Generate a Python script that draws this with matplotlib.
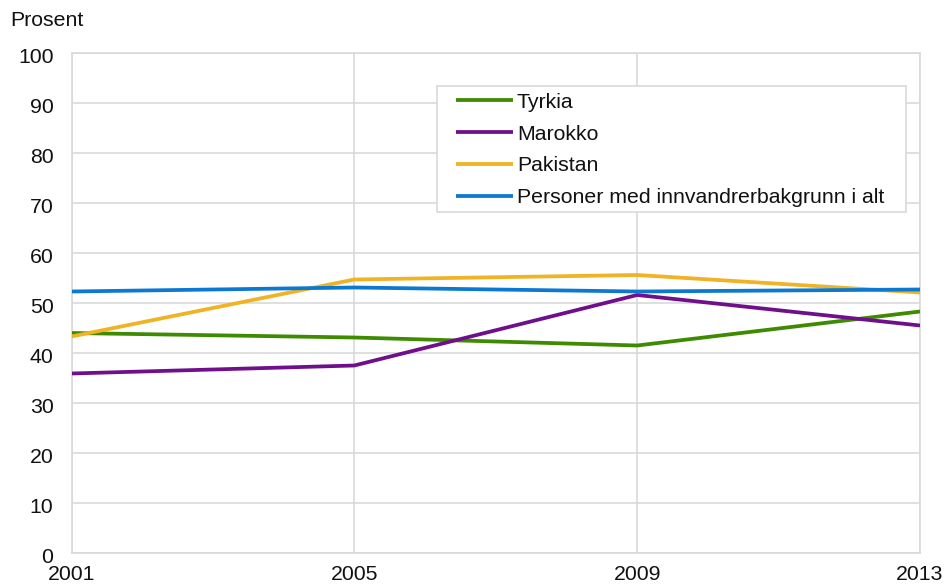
import matplotlib
matplotlib.use("Agg")
import matplotlib.pyplot as plt
import matplotlib.transforms as mtransforms
from matplotlib.patches import Rectangle

plt.rcParams['font.family'] = ['Liberation Sans', 'DejaVu Sans']

years = [2001, 2005, 2009, 2013]
tyrkia = [43.9, 43.0, 41.4, 48.2]
marokko = [35.8, 37.4, 51.5, 45.4]
pakistan = [43.2, 54.6, 55.5, 52.0]
personer = [52.2, 53.0, 52.2, 52.6]

series_labels = ["Tyrkia", "Marokko", "Pakistan", "Personer med innvandrerbakgrunn i alt"]
colors = ["#3e8a00", "#6f0f8c", "#efb324", "#0b78d2"]
y_ticks = list(range(0, 101, 10))

W, H = 947, 585
FS = 15.3
fig = plt.figure(figsize=(W/100, H/100), dpi=100)
ax = fig.add_axes([71.5/W, (H-552.5)/H, (920-71.5)/W, (552.5-52.5)/H])

for vals, lab, c in zip([tyrkia, marokko, pakistan, personer], series_labels, colors):
    ax.plot(years, vals, color=c, lw=2.7, label=lab, solid_capstyle='butt', zorder=3)

ax.set_xlim(years[0], years[-1])
ax.set_ylim(0, 100)
ax.set_xticks(years)
ax.set_yticks(y_ticks)
ax.grid(True, color="#d9d9d9", lw=1.2)
ax.set_axisbelow(True)
for s in ax.spines.values():
    s.set_color("#d9d9d9")
    s.set_linewidth(1.2)
ax.tick_params(length=0, labelsize=FS, colors="#111111")
ax.tick_params(axis='x', pad=9)
ax.tick_params(axis='y', pad=13)
off = mtransforms.ScaledTranslation(0, -2/72, fig.dpi_scale_trans)
for lbl in ax.get_yticklabels():
    lbl.set_transform(lbl.get_transform() + off)

fig.text(10/W, 1-20/H, "Prosent", fontsize=FS, va='center', ha='left', color="#111111")

# legend frame
frame = Rectangle((437/W, 1-212/H), (906-437)/W, (212-86)/H, transform=fig.transFigure,
                  facecolor='white', edgecolor='#d9d9d9', lw=1.2, zorder=4, clip_on=False)
ax.add_patch(frame)

leg = ax.legend(loc='upper left', bbox_to_anchor=(452/W, 1-88.5/H), bbox_transform=fig.transFigure,
                fontsize=FS, frameon=False,
                handlelength=2.65, handletextpad=0.2, labelspacing=0.6, borderpad=0.2,
                borderaxespad=0)
leg.set_zorder(5)
for t in leg.get_texts():
    t.set_color("#111111")

fig.savefig("out.png", dpi=100)
